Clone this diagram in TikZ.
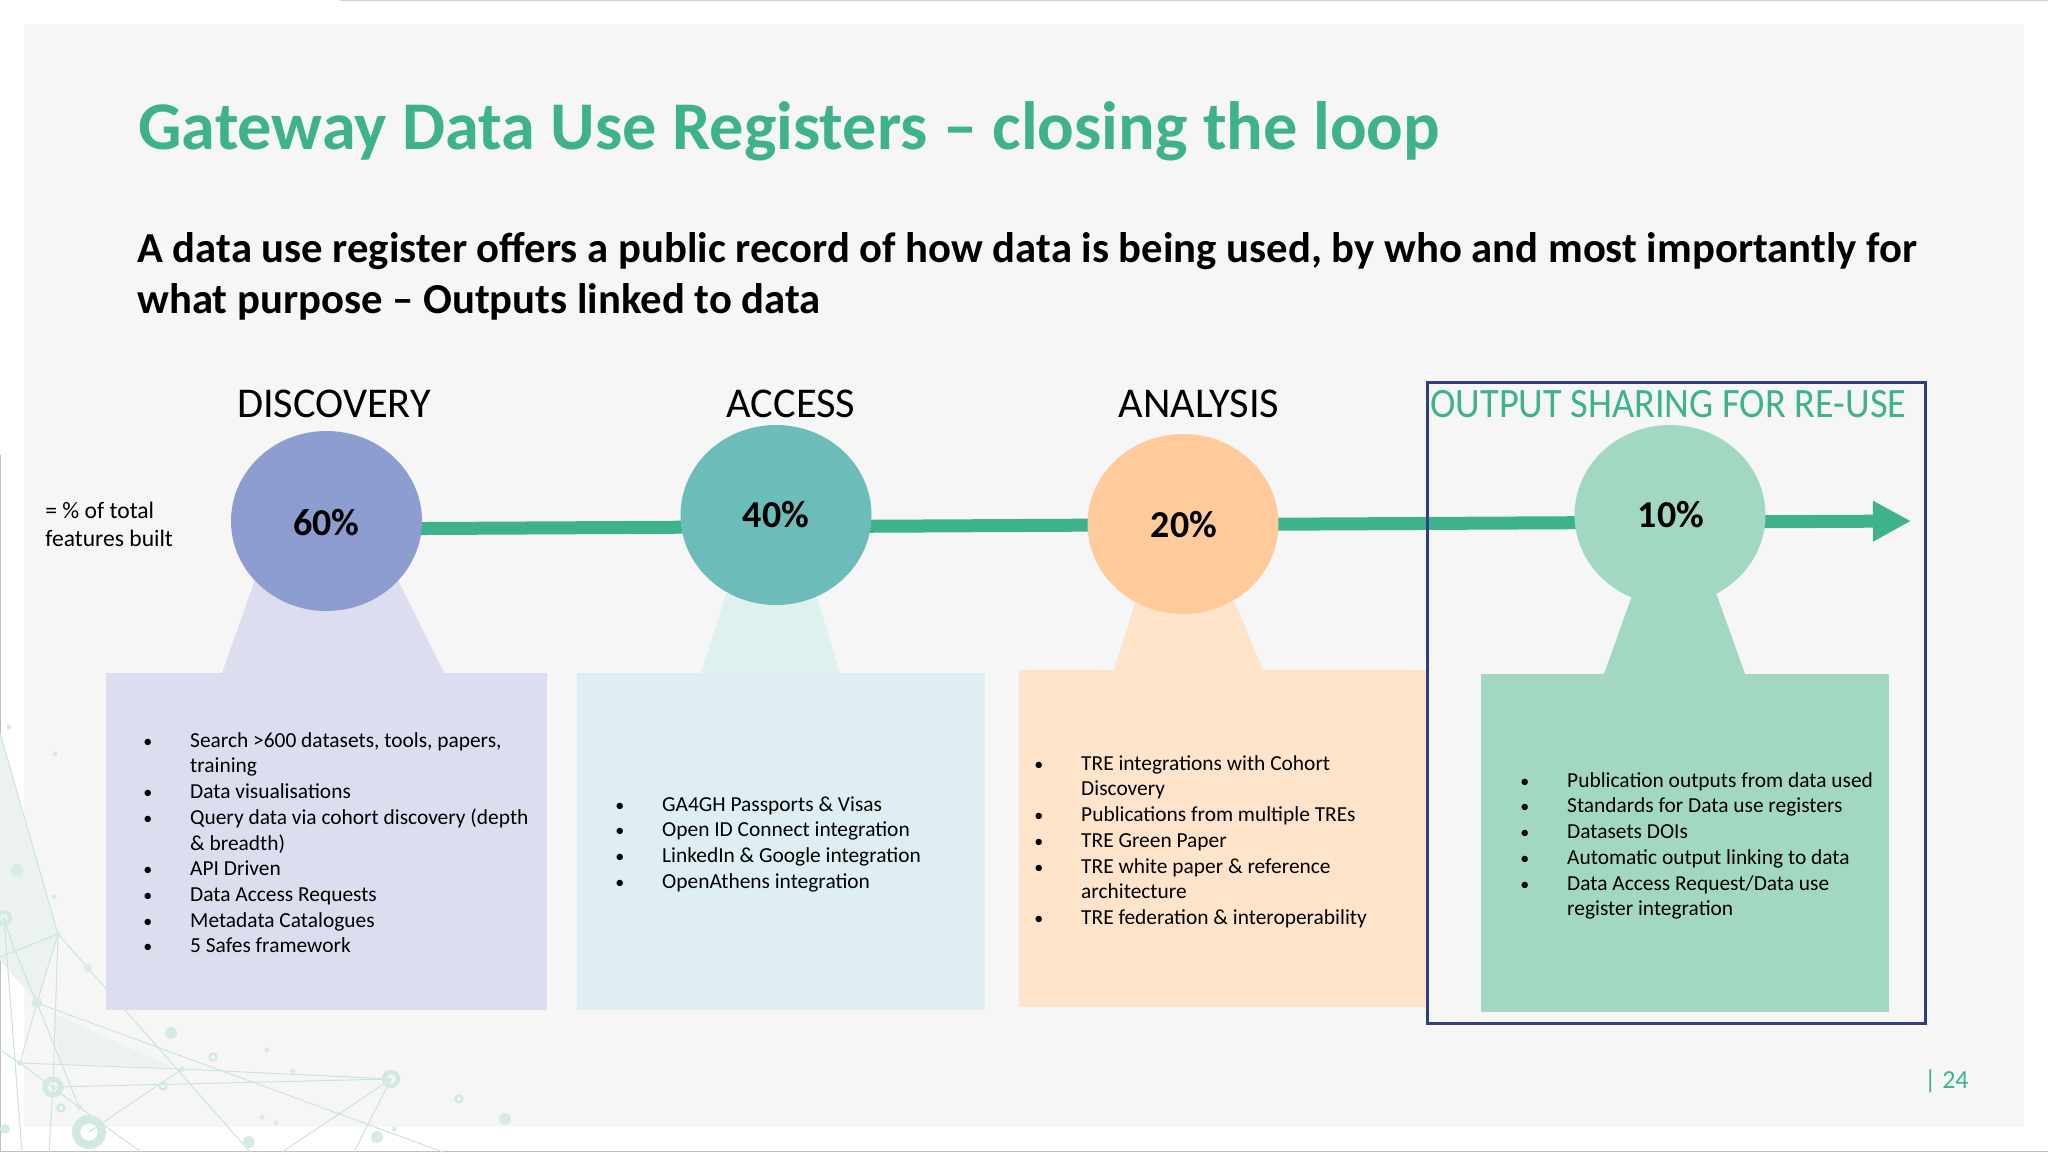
\documentclass[tikz,border=0pt]{standalone}
\usepackage{fontspec}
\setmainfont{Carlito}
\usetikzlibrary{shapes.geometric,arrows.meta}
\definecolor{bgpanel}{HTML}{F6F6F7}
\definecolor{teal}{HTML}{3DB28C}
\definecolor{frameblue}{HTML}{2F3F83}
\definecolor{cdisc}{HTML}{8E9DD0}
\definecolor{cacc}{HTML}{6CBDB9}
\definecolor{cana}{HTML}{FFCB9B}
\definecolor{cout}{HTML}{A2D8C1}
\definecolor{bdisc}{HTML}{DCDDEF}
\definecolor{bacc}{HTML}{DFEEF2}
\definecolor{nacc}{HTML}{DFF1EE}
\definecolor{bana}{HTML}{FFE3CB}
\definecolor{netc}{HTML}{C9E5DA}
\definecolor{nets}{HTML}{ECF2EF}
\newcommand{\bitem}[1]{\makebox[23.4pt][l]{{\fontsize{9}{9}\selectfont •}}#1\\}
\newcommand{\bcont}[1]{\hspace{23.4pt}#1\\}
\tikzset{
  x=0.5pt,y=-0.5pt,
  stage/.style={ellipse,inner sep=0pt,minimum width=95.5pt,minimum height=90pt},
  pct/.style={font=\fontsize{19}{21}\selectfont\bfseries,inner sep=0pt},
  head/.style={font=\fontsize{21.2}{24}\selectfont,inner sep=0pt},
  bul/.style={anchor=north west,inner sep=0pt,align=left,font=\fontsize{10.7}{12.85}\selectfont},
  netl/.style={draw=netc,line width=0.5pt},
  netd/.style={circle,fill=netc!75!white,inner sep=0pt,minimum size=#1},
  netr/.style={circle,draw=netc!85!white,line width=#1*0.32,inner sep=0pt,minimum size=#1},
}
\begin{document}
\begin{tikzpicture}
\useasboundingbox (0,0) rectangle (2048,1152);
\fill[white] (0,0) rectangle (2048,1152);
\fill[bgpanel] (24,24) rectangle (2024,1127);
\draw[gray!35,line width=0.5pt] (340,0.5) -- (2048,0.5);
\draw[gray!50,line width=0.5pt] (0.5,455) -- (0.5,1151.5) -- (2048,1151.5);
% network decoration
\fill[nets] (0,733) -- (58,934) -- (37,1003) -- (0,960) -- cycle;
\fill[nets] (53,1013) -- (171,1067) -- (60,1063) -- cycle;
\draw[netl] (0,733) -- (58,934) -- (250,1152);
\draw[netl] (0,957) -- (58,934) -- (37,1003) -- (15,951) -- (4,918);
\draw[netl] (37,1003) -- (20,1063) -- (79,1107) -- (37,1003);
\draw[netl] (37,1003) -- (443,1152);
\draw[netl] (58,934) -- (53,1087) -- (49,1152);
\draw[netl] (4,918) -- (22,1152);
\draw[netl] (0,1050) -- (20,1063) -- (182,1069) -- (391,1079);
\draw[netl] (53,1087) -- (391,1079) -- (282,1152);
\draw[netl] (391,1079) -- (354,1152);
\draw[netl] (182,1069) -- (89,1132);
\draw[netl] (79,1107) -- (141,1152);
\foreach \px/\py/\s in {58/934/3pt,15/951/3pt,37/1003/5.5pt,20/1063/3pt,79/1107/3pt,182/1069/3pt,88/968/4pt,171/1033/6pt,17/870/6pt,9/727/2.5pt,55/754/2.5pt,54/897/2.5pt,267/1050/2.5pt,293/1071/2.5pt,505/1119/6pt,377/1137/6pt,249/1142/6pt,262/1117/2.5pt,276/1123/2.5pt,394/1129/2.5pt,5/1129/5pt}
  \node[netd=\s] at (\px,\py) {};
\foreach \px/\py/\s in {4/918/6pt,53/1087/8pt,89/1132/13pt,391/1079/7pt,163/1086/3.5pt,213/1057/3.5pt,459/1099/3.5pt,61/1108/3.5pt}
  \node[netr=\s] at (\px,\py) {};
% title
\node[anchor=base west,inner sep=0pt,text=teal,font=\fontsize{34.15}{37}\selectfont\bfseries] (title) at (138,149) {Gateway Data Use Registers – closing the loop};
\node[anchor=north west,inner sep=0pt,align=left,font=\fontsize{21.35}{25.5}\selectfont\bfseries] (sub) at (137,232.5) {A data use register offers a public record of how data is being used, by who and most importantly for\\what purpose – Outputs linked to data};
% boxes and necks
\fill[bdisc] (255,580) -- (398,580) -- (444,673) -- (222,673) -- cycle;
\node[fill=bdisc,inner sep=0pt,minimum width=220.5pt,minimum height=168.5pt,anchor=north west] (bdisc) at (106,673) {};
\fill[nacc] (726,594) -- (816,594) -- (840,673) -- (701,673) -- cycle;
\node[fill=bacc,inner sep=0pt,minimum width=204pt,minimum height=168.5pt,anchor=north west] (bacc) at (577,673) {};
\fill[bana] (1136,600) -- (1234,600) -- (1263,670) -- (1114,670) -- cycle;
\node[fill=bana,inner sep=0pt,minimum width=204pt,minimum height=168.5pt,anchor=north west] (bana) at (1019,670) {};
\fill[cout] (1634,590) -- (1715,590) -- (1745,674) -- (1604,674) -- cycle;
\node[fill=cout,inner sep=0pt,minimum width=204pt,minimum height=169pt,anchor=north west] (bout) at (1481,674) {};
% timeline
\coordinate (ls) at (326,529);
\coordinate (le) at (1911,521);
\draw[teal,line width=6.5pt,-{Triangle[length=19pt,width=19pt]}] (ls) -- (le);
% circles
\node[stage,fill=cdisc] (disc) at (326.5,521) {};
\node[stage,fill=cacc] (acc) at (776,515) {};
\node[stage,fill=cana] (ana) at (1183,524) {};
\node[stage,fill=cout] (out) at (1670,515) {};
\node[pct] (p1) at (326.5,523) {60\%};
\node[pct] (p2) at (776,515) {40\%};
\node[pct] (p3) at (1184,525) {20\%};
\node[pct] (p4) at (1671,515) {10\%};
% headings
\node[head] (h1) at (334,404) {DISCOVERY};
\node[head] (h2) at (791,404) {ACCESS};
\node[head] (h3) at (1199,404) {ANALYSIS};
\node[head,font=\fontsize{20.9}{24}\selectfont,text=teal,anchor=west] (h4) at (1430,404) {\scalebox{0.917}[1]{OUTPUT SHARING FOR RE-USE}};
% side label
\node[anchor=north west,inner sep=0pt,align=left,font=\fontsize{11.8}{13.6}\selectfont] (lab) at (45,502) {= \% of total\\features built};
% lists
\node[bul] (l1) at (143,732) {\bitem{Search >600 datasets, tools, papers,}\bcont{training}\bitem{Data visualisations}\bitem{Query data via cohort discovery (depth}\bcont{\& breadth)}\bitem{API Driven}\bitem{Data Access Requests}\bitem{Metadata Catalogues}\bitem{5 Safes framework}};
\node[bul] (l2) at (615,796) {\bitem{GA4GH Passports \& Visas}\bitem{Open ID Connect integration}\bitem{LinkedIn \& Google integration}\bitem{OpenAthens integration}};
\node[bul] (l3) at (1034,755) {\bitem{TRE integrations with Cohort}\bcont{Discovery}\bitem{Publications from multiple TREs}\bitem{TRE Green Paper}\bitem{TRE white paper \& reference}\bcont{architecture}\bitem{TRE federation \& interoperability}};
\node[bul] (l4) at (1520,772) {\bitem{Publication outputs from data used}\bitem{Standards for Data use registers}\bitem{Datasets DOIs}\bitem{Automatic output linking to data}\bitem{Data Access Request/Data use}\bcont{register integration}};
% frame
\draw[frameblue,line width=1.5pt] (1427,382) rectangle (1925,1023);
% page
\node[anchor=west,inner sep=0pt,text=teal,font=\fontsize{13}{15}\selectfont] (pg) at (1924,1081) {| 24};
\end{tikzpicture}
\end{document}
